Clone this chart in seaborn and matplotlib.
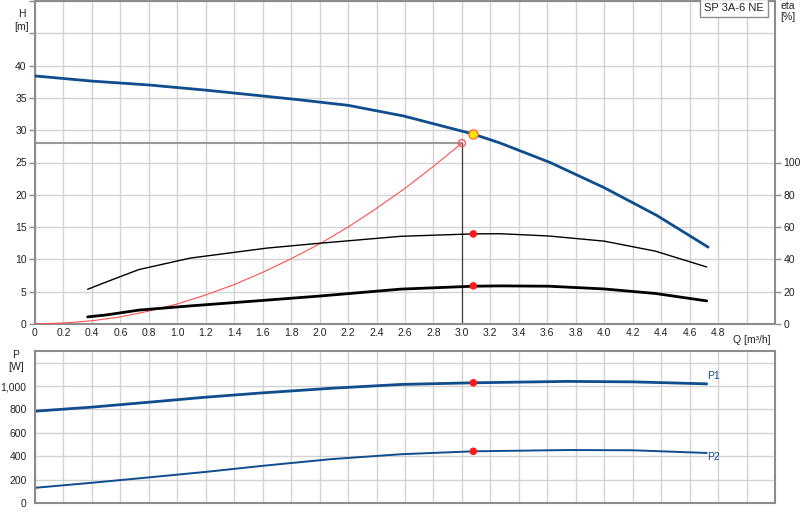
import numpy as np
import pandas as pd
import matplotlib
matplotlib.use("Agg")
import matplotlib.pyplot as plt
import seaborn as sns

# Kennlinie Förderhöhe H [m]
q_h = [0, 0.4, 0.8, 1.2, 1.6, 1.86, 2.2, 2.59, 2.87, 3.08, 3.27, 3.62, 4.0, 4.37, 4.73]
h_vals = [38.4, 37.6, 37.0, 36.2, 35.3, 34.7, 33.85, 32.2, 30.6, 29.4, 28.0, 25.0, 21.1, 16.8, 11.9]

# Anlagenkennlinie (rot)
q_sys = [0, 0.2, 0.4, 0.6, 0.8, 1.0, 1.2, 1.4, 1.6, 1.8, 2.0, 2.2, 2.4, 2.6, 2.8, 3.0]
h_sys = [0, 0.15, 0.5, 1.1, 2.0, 3.1, 4.5, 6.1, 8.0, 10.1, 12.4, 15.0, 17.9, 21.0, 24.4, 28.0]

# Wirkungsgrad eta [%]
q_eta = [0.37, 0.5, 0.73, 1.09, 1.63, 2.0, 2.57, 3.08, 3.27, 3.61, 4.0, 4.36, 4.72]
eta_pump = [21.5, 26.0, 33.7, 40.8, 47.0, 50.0, 54.3, 55.8, 55.9, 54.5, 51.3, 45.1, 35.3]
eta_total = [4.4, 5.6, 8.6, 11.2, 14.8, 17.3, 21.6, 23.4, 23.6, 23.4, 21.7, 18.9, 14.3]

# Leistung P [W]
q_p = [0, 0.4, 0.8, 1.2, 1.6, 2.08, 2.57, 3.08, 3.74, 4.2, 4.72]
p1_vals = [785, 820, 862, 905, 942, 981, 1014, 1028, 1040, 1036, 1019]
p2_vals = [130, 173, 219, 266, 318, 375, 417, 442, 453, 451, 428]

# Betriebspunkt
q_duty = 3.08
h_duty = 29.4
q_req, h_req = 3.0, 28.0
eta_duty = [55.8, 23.6]
p_duty = [1028, 442]

x_grid = [round(0.2 * i, 1) for i in range(27)]

sns.set_style("white")
plt.rcParams["font.family"] = ["Liberation Sans", "DejaVu Sans"]
plt.rcParams["font.size"] = 7.5

blue = "#0f4d8c"
grid_c = "#d2d2d2"
frame_c = "#8c8c8c"

fig = plt.figure(figsize=(8, 5.2), dpi=100)
ax = fig.add_axes([35 / 800, 1 - 324 / 520, 740 / 800, 323 / 520])
axp = fig.add_axes([35 / 800, 17 / 520, 740 / 800, 152 / 520])

# --- oberes Diagramm ---
ax.set_xlim(0, 5.2)
ax.set_ylim(0, 50)
ax.set_xticks(x_grid)
ax.set_xticklabels(["0"] + [f"{v:.1f}" for v in x_grid[1:25]] + ["", ""])
ax.set_yticks(range(0, 51, 5))
ax.set_yticklabels([str(v) for v in range(0, 41, 5)] + ["", ""])
ax.grid(True, color=grid_c, lw=1)
ax.tick_params(axis="x", length=0, pad=3, colors="#222")
ax.tick_params(axis="y", length=4, width=1, direction="out", color=frame_c, colors="#222", pad=2)
for s in ax.spines.values():
    s.set_color(frame_c)
    s.set_linewidth(1.5)

# Hilfslinien zum Anforderungspunkt
ax.plot([0, q_req], [h_req, h_req], color="#9a9a9a", lw=1.5, zorder=2)
ax.plot([q_req, q_req], [0, h_req], color="#444", lw=0.9, zorder=2)

sns.lineplot(x=q_sys, y=h_sys, ax=ax, color="#ff5050", lw=0.8, zorder=3)
sns.lineplot(x=q_h, y=h_vals, ax=ax, color=blue, lw=2, zorder=4)
sns.scatterplot(x=[q_req], y=[h_req], ax=ax, s=26, facecolor="none",
                edgecolor="#ff5050", linewidth=0.9, zorder=5)
sns.scatterplot(x=[q_duty], y=[h_duty], ax=ax, s=45, color="#ffe100",
                edgecolor="#ff6030", linewidth=0.8, zorder=6)

ax2 = ax.twinx()
ax2.set_ylim(0, 200)
ax2.set_yticks(range(0, 101, 20))
ax2.tick_params(axis="y", length=4, width=1, direction="out", color=frame_c, colors="#222", pad=2)
for s in ax2.spines.values():
    s.set_visible(False)
sns.lineplot(x=q_eta, y=eta_pump, ax=ax2, color="black", lw=1.0)
sns.lineplot(x=q_eta, y=eta_total, ax=ax2, color="black", lw=2.0)
sns.scatterplot(x=[q_duty, q_duty], y=eta_duty, ax=ax2, s=30, color="#ff1a1a",
                edgecolor="none", zorder=5)
ax2.set_ylabel("")

ax.text(5.04, -0.035, "Q [m³/h]", transform=ax.get_xaxis_transform(),
        ha="center", va="top", color="#222")
fig.text(22 / 800, 1 - 14 / 520, "H", ha="center", va="center", color="#222")
fig.text(22 / 800, 1 - 27 / 520, "[m]", ha="center", va="center", color="#222")
fig.text(788 / 800, 1 - 6 / 520, "eta", ha="center", va="center", color="#222")
fig.text(788 / 800, 1 - 17 / 520, "[%]", ha="center", va="center", color="#222")
ax.text(0.985, 0.994, "SP 3A-6 NE", transform=ax.transAxes, ha="right", va="top",
        fontsize=8, color="#222",
        bbox=dict(boxstyle="square,pad=0.35", fc="white", ec="#8c8c8c", lw=1))

# --- unteres Diagramm: Leistung ---
axp.set_xlim(0, 5.2)
axp.set_ylim(0, 1300)
axp.set_xticks(x_grid)
axp.set_xticklabels([])
axp.set_yticks(range(0, 1201, 200))
axp.set_yticklabels(["0", "200", "400", "600", "800", "1,000", ""])
axp.grid(True, color=grid_c, lw=1)
axp.tick_params(axis="x", length=0)
axp.tick_params(axis="y", length=4, width=1, direction="out", color=frame_c, colors="#222", pad=2)
for s in axp.spines.values():
    s.set_color(frame_c)
    s.set_linewidth(1.5)

sns.lineplot(x=q_p, y=p1_vals, ax=axp, color=blue, lw=2)
sns.lineplot(x=q_p, y=p2_vals, ax=axp, color=blue, lw=1.4)
sns.scatterplot(x=[q_duty, q_duty], y=p_duty, ax=axp, s=30, color="#ff1a1a",
                edgecolor="none", zorder=5)
axp.text(4.77, 1085, "P1", color=blue, ha="center", va="center", fontsize=7.5)
axp.text(4.77, 390, "P2", color=blue, ha="center", va="center", fontsize=7.5)
axp.set_ylabel("")
fig.text(16 / 800, 1 - 355 / 520, "P", ha="center", va="center", color="#222")
fig.text(16 / 800, 1 - 367 / 520, "[W]", ha="center", va="center", color="#222")

fig.savefig("out.png", dpi=100)
